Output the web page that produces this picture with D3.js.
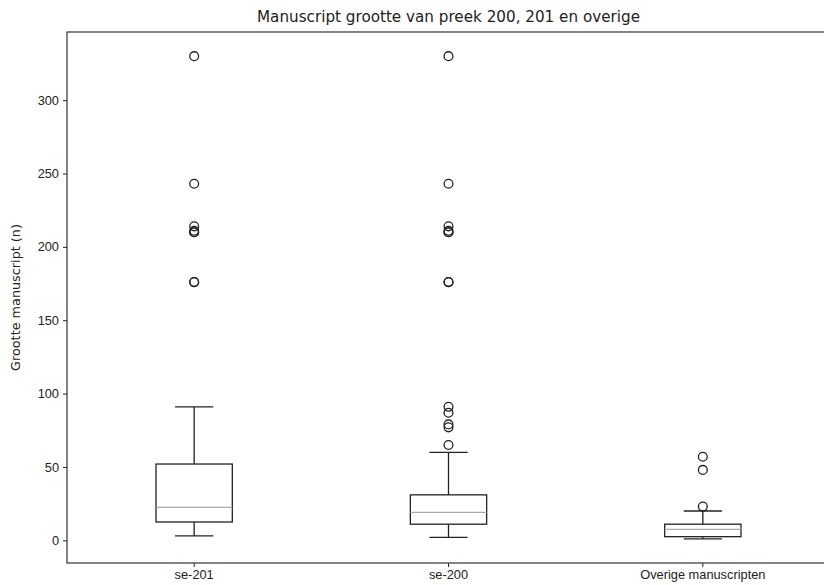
<!DOCTYPE html>
<html>
<head>
<meta charset="utf-8">
<script src="https://cdn.jsdelivr.net/npm/d3@7"></script>
<style>
  body { margin: 0; background: #fff; }
  svg { display: block; font-family: 'DejaVu Sans', sans-serif; }
  .tick text { fill: #222; font-size: 12.8px; }
  .tick line { stroke: #222; }
</style>
</head>
<body>
<div id="chart"></div>
<script>
// boxplot statistics
const categories = ['se-201', 'se-200', 'Overige manuscripten'];
const whiskerLow = [3, 2, 1];
const q1 = [12.5, 11, 2.5];
const medians = [22.5, 19, 7.5];
const q3 = [52, 31, 11];
const whiskerHigh = [91, 60, 20];
const outliers = [
  [176, 176, 210, 210, 211, 214, 243, 330],
  [65, 77, 79, 87, 91, 176, 176, 210, 210, 211, 214, 243, 330],
  [23, 48, 57]
];
const yTicks = [0, 50, 100, 150, 200, 250, 300];

const totalWidth = 824;
const totalHeight = 585;
const margin = {top: 32, left: 67};
const width = 763;
const height = 531;

let svg = d3.select('#chart').append('svg')
    .attr('width', totalWidth)
    .attr('height', totalHeight);

let g = svg.append('g')
    .attr('transform', 'translate(' + margin.left + ',' + margin.top + ')');

let x = d3.scaleBand().domain(categories).range([0, width]).padding(0);
let y = d3.scaleLinear().domain([-15.45, 346.45]).range([height, 0]);

let cx = function(i) {
  return x(categories[i]) + x.bandwidth() / 2;
};
let boxW = x.bandwidth() * 0.3;

let axisLeft = g.append('g')
    .call(d3.axisLeft(y).tickValues(yTicks).tickSize(4).tickPadding(4));
axisLeft.select('.domain').remove();

let axisBottom = g.append('g')
    .attr('transform', 'translate(0,' + height + ')')
    .call(d3.axisBottom(x).tickSize(4).tickPadding(3));
axisBottom.select('.domain').remove();

let boxes = g.selectAll('.box')
  .data(categories)
  .enter().append('g')
    .attr('class', 'box');

// whiskers
boxes.append('line')
    .attr('x1', function(d, i) { return cx(i); })
    .attr('x2', function(d, i) { return cx(i); })
    .attr('y1', function(d, i) { return y(q3[i]); })
    .attr('y2', function(d, i) { return y(whiskerHigh[i]); })
    .attr('stroke', '#222').attr('stroke-width', 1.3);
boxes.append('line')
    .attr('x1', function(d, i) { return cx(i); })
    .attr('x2', function(d, i) { return cx(i); })
    .attr('y1', function(d, i) { return y(q1[i]); })
    .attr('y2', function(d, i) { return y(whiskerLow[i]); })
    .attr('stroke', '#222').attr('stroke-width', 1.3);

// caps
[whiskerHigh, whiskerLow].forEach(function(arr) {
  boxes.append('line')
      .attr('x1', function(d, i) { return cx(i) - boxW / 4; })
      .attr('x2', function(d, i) { return cx(i) + boxW / 4; })
      .attr('y1', function(d, i) { return y(arr[i]); })
      .attr('y2', function(d, i) { return y(arr[i]); })
      .attr('stroke', '#222').attr('stroke-width', 1.3);
});

boxes.append('rect')
    .attr('x', function(d, i) { return cx(i) - boxW / 2; })
    .attr('y', function(d, i) { return y(q3[i]); })
    .attr('width', boxW)
    .attr('height', function(d, i) { return y(q1[i]) - y(q3[i]); })
    .attr('fill', 'none')
    .attr('stroke', '#222').attr('stroke-width', 1.3);

boxes.append('line')
    .attr('x1', function(d, i) { return cx(i) - boxW / 2; })
    .attr('x2', function(d, i) { return cx(i) + boxW / 2; })
    .attr('y1', function(d, i) { return y(medians[i]); })
    .attr('y2', function(d, i) { return y(medians[i]); })
    .attr('stroke', '#aaa').attr('stroke-width', 1.3);

boxes.each(function(d, i) {
  d3.select(this).selectAll('circle')
    .data(outliers[i])
    .enter().append('circle')
      .attr('cx', cx(i))
      .attr('cy', function(v) { return y(v); })
      .attr('r', 4.4)
      .attr('fill', 'none')
      .attr('stroke', '#222')
      .attr('stroke-width', 1.3);
});

// frame
g.append('rect')
    .attr('x', 0).attr('y', 0)
    .attr('width', width).attr('height', height)
    .attr('fill', 'none')
    .attr('stroke', '#333').attr('stroke-width', 1.2);

svg.append('text')
    .attr('x', margin.left + width / 2)
    .attr('y', 22)
    .attr('text-anchor', 'middle')
    .attr('font-size', '15.2px')
    .attr('fill', '#222')
    .text('Manuscript grootte van preek 200, 201 en overige');

svg.append('text')
    .attr('transform', 'translate(20,' + (margin.top + height / 2) + ') rotate(-90)')
    .attr('text-anchor', 'middle')
    .attr('font-size', '12.8px')
    .attr('fill', '#222')
    .text('Grootte manuscript (n)');
</script>
</body>
</html>
